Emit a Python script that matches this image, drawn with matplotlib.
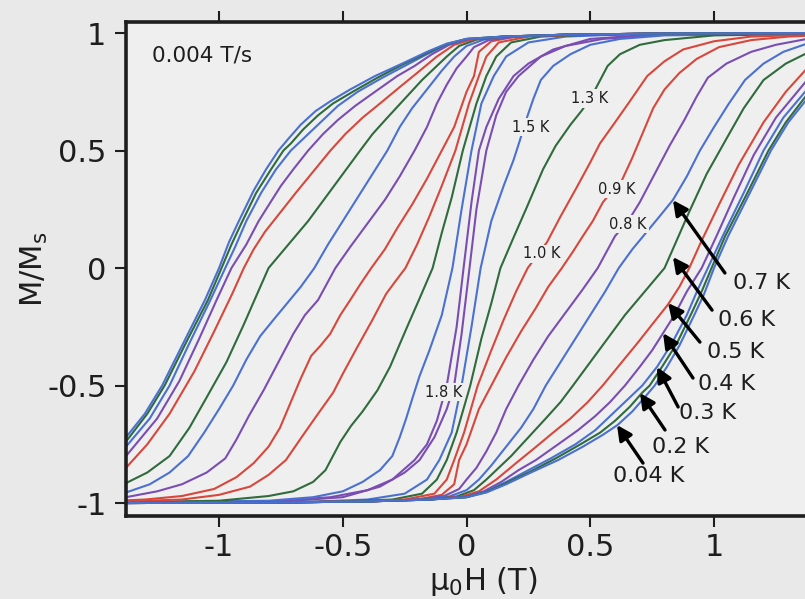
import numpy as np
import matplotlib.pyplot as plt

# colours of the curves
GREEN = '#2f6b3c'
BLUE = '#4a70d2'
PURPLE = '#7a4db3'
RED = '#d8473b'

# ascending branch (field swept up); the descending branch is its mirror
H_004 = [-1.45, -0.8, -0.4, -0.15, 0.0, 0.08, 0.16, 0.26, 0.37, 0.47, 0.55, 0.61, 0.67, 0.72, 0.76,
         0.81, 0.86, 0.92, 0.96, 1.0, 1.057, 1.14, 1.23, 1.3, 1.376, 1.45, 1.52]
M_004 = [-1.0, -0.998, -0.993, -0.985, -0.975, -0.955, -0.92, -0.87, -0.817, -0.76, -0.71, -0.668, -0.61, -0.55, -0.5,
         -0.42, -0.33, -0.2, -0.11, 0.0, 0.136, 0.31, 0.5, 0.62, 0.72, 0.8, 0.86]

H_02 = [-1.45, -0.8, -0.4, -0.15, 0.0, 0.08, 0.16, 0.26, 0.36, 0.46, 0.54, 0.6, 0.66, 0.71, 0.74,
        0.79, 0.85, 0.91, 0.95, 0.99, 1.045, 1.13, 1.22, 1.29, 1.37, 1.45, 1.52]
M_02 = [-1.0, -0.998, -0.993, -0.985, -0.975, -0.953, -0.915, -0.865, -0.81, -0.75, -0.7, -0.65, -0.59, -0.53, -0.5,
        -0.42, -0.32, -0.19, -0.1, 0.0, 0.136, 0.31, 0.5, 0.62, 0.73, 0.81, 0.87]

H_03 = [-1.45, -0.8, -0.4, -0.15, 0.0, 0.08, 0.16, 0.25, 0.34, 0.44, 0.52, 0.59, 0.65, 0.71, 0.77,
        0.83, 0.89, 0.935, 0.975, 1.035, 1.12, 1.2, 1.28, 1.376, 1.45, 1.52]
M_03 = [-1.0, -0.998, -0.993, -0.985, -0.975, -0.95, -0.91, -0.86, -0.81, -0.75, -0.69, -0.62, -0.56, -0.5, -0.42,
        -0.32, -0.2, -0.09, 0.0, 0.136, 0.32, 0.5, 0.64, 0.76, 0.84, 0.89]

H_04 = [-1.45, -0.8, -0.4, -0.15, 0.0, 0.07, 0.14, 0.21, 0.28, 0.37, 0.45, 0.52, 0.58, 0.64, 0.7,
        0.75, 0.794, 0.84, 0.89, 0.95, 1.01, 1.08, 1.16, 1.25, 1.376, 1.5, 1.6]
M_04 = [-1.0, -0.998, -0.993, -0.985, -0.972, -0.95, -0.91, -0.86, -0.817, -0.75, -0.69, -0.63, -0.57, -0.5, -0.42,
        -0.35, -0.277, -0.2, -0.1, 0.0, 0.136, 0.3, 0.48, 0.64, 0.8, 0.9, 0.95]

H_05 = [-1.45, -0.8, -0.4, -0.15, -0.02, 0.05, 0.12, 0.2, 0.27, 0.35, 0.42, 0.49, 0.55, 0.62, 0.69,
        0.75, 0.814, 0.86, 0.9, 0.947, 1.02, 1.1, 1.2, 1.29, 1.376, 1.5, 1.6]
M_05 = [-1.0, -0.998, -0.993, -0.985, -0.972, -0.95, -0.9, -0.83, -0.77, -0.7, -0.64, -0.57, -0.5, -0.41, -0.32,
        -0.24, -0.155, -0.08, 0.0, 0.11, 0.27, 0.44, 0.62, 0.75, 0.85, 0.93, 0.965]

H_06 = [-1.45, -0.8, -0.4, -0.15, -0.04, 0.03, 0.08, 0.12, 0.18, 0.25, 0.32, 0.38, 0.43, 0.5, 0.57,
        0.64, 0.72, 0.8, 0.846, 0.9, 0.97, 1.05, 1.12, 1.2, 1.29, 1.376, 1.5, 1.6]
M_06 = [-1.0, -0.998, -0.993, -0.985, -0.972, -0.945, -0.9, -0.86, -0.8, -0.72, -0.64, -0.57, -0.5, -0.4, -0.3,
        -0.2, -0.1, 0.0, 0.11, 0.24, 0.4, 0.55, 0.68, 0.8, 0.87, 0.915, 0.96, 0.98]

H_07 = [-1.45, -0.8, -0.4, -0.18, -0.07, 0.0, 0.05, 0.1, 0.16, 0.22, 0.27, 0.32, 0.38, 0.44, 0.5, 0.56,
        0.615, 0.67, 0.725, 0.78, 0.834, 0.89, 0.943, 1.0, 1.06, 1.125, 1.2, 1.28, 1.376, 1.5, 1.6]
M_07 = [-1.0, -0.998, -0.993, -0.985, -0.972, -0.945, -0.9, -0.84, -0.76, -0.68, -0.6, -0.5, -0.4, -0.3, -0.2, -0.1,
        0.0, 0.08, 0.15, 0.22, 0.29, 0.39, 0.5, 0.6, 0.7, 0.8, 0.87, 0.92, 0.955, 0.98, 0.99]

H_08 = [-1.45, -0.8, -0.4, -0.2, -0.09, -0.03, 0.0, 0.04, 0.08, 0.12, 0.16, 0.21, 0.27, 0.33, 0.4, 0.47,
        0.53, 0.6, 0.653, 0.7, 0.76, 0.82, 0.88, 0.93, 0.975, 1.05, 1.15, 1.25, 1.376, 1.6]
M_08 = [-1.0, -0.998, -0.993, -0.985, -0.97, -0.94, -0.9, -0.85, -0.78, -0.7, -0.6, -0.5, -0.39, -0.29, -0.19, -0.09,
        0.0, 0.136, 0.2, 0.28, 0.4, 0.52, 0.63, 0.73, 0.81, 0.87, 0.92, 0.95, 0.975, 0.995]

H_09 = [-1.45, -0.8, -0.4, -0.2, -0.1, -0.05, -0.03, 0.0, 0.05, 0.1, 0.16, 0.22, 0.28, 0.33, 0.385, 0.43,
        0.47, 0.51, 0.551, 0.59, 0.628, 0.67, 0.7, 0.754, 0.8, 0.86, 0.93, 1.02, 1.15, 1.3, 1.6]
M_09 = [-1.0, -0.998, -0.993, -0.985, -0.965, -0.92, -0.817, -0.75, -0.6, -0.5, -0.38, -0.27, -0.17, -0.08, 0.0, 0.07,
        0.136, 0.2, 0.28, 0.33, 0.374, 0.47, 0.545, 0.68, 0.76, 0.83, 0.89, 0.94, 0.97, 0.985, 0.998]

H_10 = [-1.45, -0.8, -0.45, -0.25, -0.13, -0.08, -0.05, -0.01, 0.045, 0.1, 0.15, 0.2, 0.247, 0.29, 0.325,
        0.38, 0.446, 0.5, 0.539, 0.6, 0.66, 0.73, 0.8, 0.875, 1.0, 1.15, 1.6]
M_10 = [-1.0, -0.998, -0.993, -0.985, -0.96, -0.9, -0.817, -0.7, -0.5, -0.35, -0.22, -0.1, 0.0, 0.06, 0.11,
        0.22, 0.345, 0.45, 0.53, 0.62, 0.71, 0.817, 0.88, 0.93, 0.965, 0.985, 1.0]

H_13 = [-1.45, -0.8, -0.5, -0.3, -0.18, -0.12, -0.08, -0.04, 0.015, 0.06, 0.1, 0.137, 0.19, 0.244, 0.309,
        0.36, 0.42, 0.467, 0.51, 0.54, 0.57, 0.62, 0.7, 0.8, 1.0, 1.6]
M_13 = [-1.0, -0.998, -0.993, -0.985, -0.96, -0.9, -0.817, -0.7, -0.5, -0.3, -0.15, 0.0, 0.13, 0.26, 0.42,
        0.52, 0.61, 0.672, 0.74, 0.8, 0.86, 0.91, 0.95, 0.97, 0.99, 1.0]

H_15 = [-1.45, -0.9, -0.6, -0.4, -0.25, -0.16, -0.11, -0.06, -0.02, 0.02, 0.057, 0.1, 0.15, 0.19, 0.216,
        0.244, 0.27, 0.3, 0.35, 0.42, 0.5, 0.62, 0.8, 1.6]
M_15 = [-1.0, -0.998, -0.993, -0.985, -0.96, -0.9, -0.817, -0.7, -0.5, -0.25, 0.0, 0.2, 0.35, 0.46, 0.545,
        0.64, 0.72, 0.8, 0.86, 0.91, 0.95, 0.975, 0.99, 1.0]

H_18 = [-1.45, -1.0, -0.7, -0.5, -0.35, -0.25, -0.19, -0.13, -0.08, -0.05, -0.02, 0.012, 0.04, 0.08,
        0.12, 0.16, 0.21, 0.3, 0.4, 0.55, 0.8, 1.6]
M_18 = [-1.0, -0.997, -0.99, -0.975, -0.93, -0.87, -0.817, -0.72, -0.6, -0.5, -0.28, 0.0, 0.25, 0.5,
        0.65, 0.75, 0.817, 0.9, 0.945, 0.975, 0.993, 1.0]

loops = [
    (1.8, H_18, M_18, PURPLE),
    (1.5, H_15, M_15, BLUE),
    (1.3, H_13, M_13, GREEN),
    (1.0, H_10, M_10, RED),
    (0.9, H_09, M_09, RED),
    (0.8, H_08, M_08, PURPLE),
    (0.7, H_07, M_07, BLUE),
    (0.6, H_06, M_06, GREEN),
    (0.5, H_05, M_05, RED),
    (0.4, H_04, M_04, PURPLE),
    (0.3, H_03, M_03, BLUE),
    (0.2, H_02, M_02, GREEN),
    (0.04, H_004, M_004, BLUE),
]

# small in-plot labels: text, H, M
small_labels = [('1.3 K', 0.497, 0.721), ('1.5 K', 0.261, 0.600), ('0.9 K', 0.608, 0.336),
                ('0.8 K', 0.653, 0.187), ('1.0 K', 0.305, 0.060), ('1.8 K', -0.091, -0.528)]

# arrow labels: text, arrow tip, arrow tail, text anchor (left, centre)
arrow_labels = [
    ('0.7 K', (0.834, 0.289), (1.044, -0.021), (1.077, -0.064)),
    ('0.6 K', (0.834, 0.047), (0.992, -0.179), (1.016, -0.221)),
    ('0.5 K', (0.814, -0.149), (0.943, -0.315), (0.972, -0.357)),
    ('0.4 K', (0.794, -0.277), (0.915, -0.468), (0.935, -0.494)),
    ('0.3 K', (0.770, -0.421), (0.855, -0.591), (0.859, -0.617)),
    ('0.2 K', (0.701, -0.532), (0.802, -0.689), (0.749, -0.762)),
    ('0.04 K', (0.608, -0.668), (0.713, -0.830), (0.592, -0.885)),
]

ticks = [-1, -0.5, 0, 0.5, 1]
tick_text = ['-1', '-0.5', '0', '0.5', '1']

plt.rcParams['font.family'] = 'DejaVu Sans'
plt.rcParams['mathtext.default'] = 'regular'

bg_fig = '#e9e9e9'
bg_ax = '#efefef'
ink = '#1e1e1e'

fig = plt.figure(figsize=(8.05, 5.99), dpi=100, facecolor=bg_fig)
ax = fig.add_axes([126 / 805, 1 - 516 / 599, 714 / 805, 494 / 599])
ax.set_facecolor(bg_ax)

for T, H, M, col in loops:
    H = np.asarray(H)
    M = np.asarray(M)
    ax.plot(H, M, color=col, lw=1.5, solid_joinstyle='round')
    ax.plot(-H, -M, color=col, lw=1.5, solid_joinstyle='round')

ax.set_xlim(-1.376, 1.509)
ax.set_ylim(-1.055, 1.047)

ax.set_xticks(ticks)
ax.set_xticklabels(tick_text)
ax.set_yticks(ticks)
ax.set_yticklabels(tick_text)
ax.tick_params(direction='out', length=8, width=1.5, color=ink, labelsize=22, labelcolor=ink)
ax.tick_params(axis='x', top=True, pad=4)
ax.tick_params(axis='y', pad=6)

for side in ['left', 'top', 'bottom']:
    ax.spines[side].set_linewidth(2.6)
    ax.spines[side].set_color(ink)
ax.spines['right'].set_visible(False)

ax.set_xlabel('μ$_0$H (T)', fontsize=22, color=ink)
ax.xaxis.set_label_coords(0.5, -0.1)
ax.set_ylabel('M/M$_s$', fontsize=22, color=ink)
ax.yaxis.set_label_coords(-0.106, 0.5)

ax.text(-1.271, 0.906, '0.004 T/s', fontsize=15.5, color=ink, ha='left', va='center')

for txt, x, y in small_labels:
    ax.text(x, y, txt, fontsize=10.5, color=ink, ha='center', va='center', zorder=5,
            bbox=dict(boxstyle='square,pad=0.12', fc=bg_ax, ec='none'))

for txt, tip, tail, pos in arrow_labels:
    ax.annotate('', xy=tip, xytext=tail,
                arrowprops=dict(arrowstyle='-|>', color='black', lw=2.4,
                                mutation_scale=22, shrinkA=0, shrinkB=0), zorder=6)
    ax.text(pos[0], pos[1], txt, fontsize=16, color=ink, ha='left', va='center', zorder=6)

fig.savefig('out.png', dpi=100, facecolor=bg_fig)
